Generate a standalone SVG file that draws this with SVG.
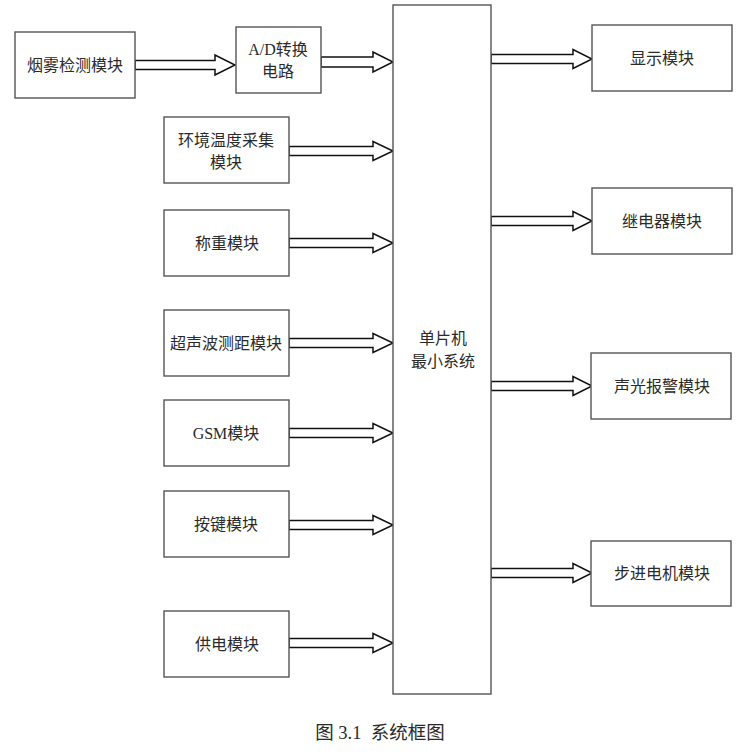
<svg xmlns="http://www.w3.org/2000/svg" width="748" height="754" viewBox="0 0 748 754">
<style>
.box{fill:#fff;stroke:#555;stroke-width:1.4}
.arr{fill:#fff;stroke:#111;stroke-width:1.5;stroke-linejoin:miter}
text{font-family:"Liberation Serif","Noto Sans CJK SC",serif;font-size:16px;fill:#2a2a2a;text-anchor:middle;dominant-baseline:central}
.cap{font-size:18.5px}
</style>
<rect width="748" height="754" fill="#fff"/>
<g id="connectors">
<path class="arr" d="M135 60.5H215V55L235 65L215 75V69.5H135Z"/>
<path class="arr" d="M321 57H373V52L393 62L373 72V67H321Z"/>
<path class="arr" d="M289 146.5H373V141.5L393 151L373 160.5V155.5H289Z"/>
<path class="arr" d="M289 238.5H373V233.5L393 243L373 252.5V247.5H289Z"/>
<path class="arr" d="M289 338.5H373V333.5L393 343L373 352.5V347.5H289Z"/>
<path class="arr" d="M289 428.5H373V423.5L393 433L373 442.5V437.5H289Z"/>
<path class="arr" d="M289 520.5H373V515.5L393 525L373 534.5V529.5H289Z"/>
<path class="arr" d="M289 638.5H373V633.5L393 643L373 652.5V647.5H289Z"/>
<path class="arr" d="M491 54.5H573V49.5L592 59L573 68.5V63.5H491Z"/>
<path class="arr" d="M491 216.5H573V211.5L592 221L573 230.5V225.5H491Z"/>
<path class="arr" d="M491 381.5H573V376.5L592 386L573 395.5V390.5H491Z"/>
<path class="arr" d="M491 568.5H573V563.5L592 573L573 582.5V577.5H491Z"/>
</g>
<g id="smoke"><rect class="box" x="15" y="32" width="120" height="66"/><text x="75" y="65">烟雾检测模块</text></g>
<g id="adc"><rect class="box" x="236" y="27" width="85" height="66"/><text x="278" y="49">A/D转换</text><text x="278" y="71">电路</text></g>
<g id="mcu"><rect class="box" x="393" y="5" width="98" height="689"/><text x="443" y="338">单片机</text><text x="443" y="361">最小系统</text></g>
<g id="temp"><rect class="box" x="164" y="117" width="125" height="66"/><text x="226" y="140">环境温度采集</text><text x="226" y="162">模块</text></g>
<g id="weigh"><rect class="box" x="164" y="210" width="125" height="66"/><text x="227" y="243">称重模块</text></g>
<g id="ultra"><rect class="box" x="164" y="310" width="125" height="66"/><text x="226" y="343">超声波测距模块</text></g>
<g id="gsm"><rect class="box" x="164" y="400" width="125" height="66"/><text x="226" y="433">GSM模块</text></g>
<g id="keys"><rect class="box" x="164" y="491" width="125" height="66"/><text x="226" y="524">按键模块</text></g>
<g id="power"><rect class="box" x="164" y="611" width="125" height="66"/><text x="227" y="644">供电模块</text></g>
<g id="display"><rect class="box" x="592" y="25" width="140" height="66"/><text x="662" y="58">显示模块</text></g>
<g id="relay"><rect class="box" x="592" y="188" width="140" height="66"/><text x="662" y="221">继电器模块</text></g>
<g id="alarm"><rect class="box" x="591" y="353" width="140" height="66"/><text x="662" y="386">声光报警模块</text></g>
<g id="stepper"><rect class="box" x="591" y="541" width="140" height="65"/><text x="662" y="573">步进电机模块</text></g>
<text class="cap" x="380" y="733" xml:space="preserve">图 3.1  系统框图</text>
</svg>
